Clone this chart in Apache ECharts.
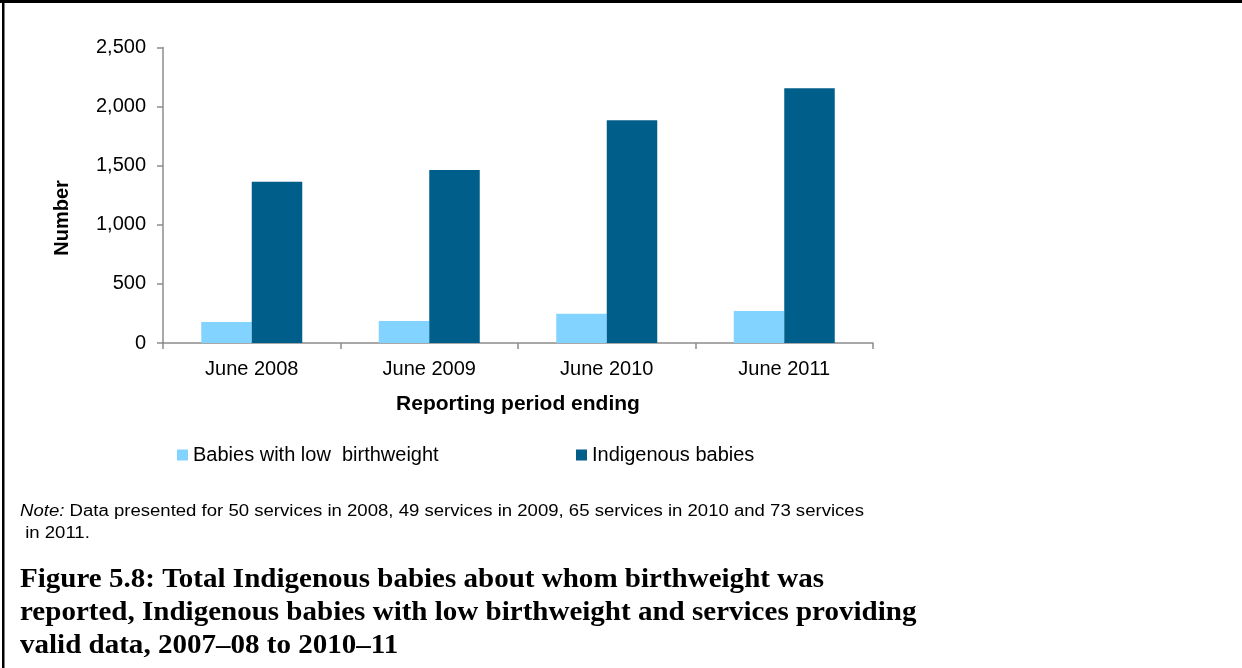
<!DOCTYPE html>
<html>
<head>
<meta charset="utf-8">
<script src="https://cdn.jsdelivr.net/npm/echarts@6/dist/echarts.min.js"></script>
<style>
  html, body { margin: 0; padding: 0; background: #ffffff; }
  #chart { width: 1242px; height: 668px; }
</style>
</head>
<body>
<div id="chart"></div>
<script>
// Reporting periods and counts of babies per period
const categories = ['June 2008', 'June 2009', 'June 2010', 'June 2011'];
const lowBirthweight = [178, 186, 248, 271];
const indigenousBabies = [1365, 1464, 1884, 2155];
const seriesNames = ['Babies with low  birthweight', 'Indigenous babies'];
const yTicks = { min: 0, max: 2500, interval: 500 };

const yAxisTitle = 'Number';
const xAxisTitle = 'Reporting period ending';
const noteLines = [
  'Data presented for 50 services in 2008, 49 services in 2009, 65 services in 2010 and 73 services',
  ' in 2011.'
];
const titleLines = [
  'Figure 5.8: Total Indigenous babies about whom birthweight was',
  'reported, Indigenous babies with low birthweight and services providing',
  'valid data, 2007\u201308 to 2010\u201311'
];

const LIGHT = '#82D3FF';
const DARK = '#005E8B';
const AXIS = '#8c8c8c';
const SANS = '"Liberation Sans", Arial, sans-serif';
const SERIF = '"Liberation Serif", "DejaVu Serif", serif';
const NOTE_WIDE = 1.16;  // note text is set slightly expanded
const TITLE_WIDE = 1.075;

const chart = echarts.init(document.getElementById('chart'), null, { renderer: 'canvas' });

const fmt = v => v.toLocaleString('en-US');

chart.setOption({
  animation: false,
  backgroundColor: '#ffffff',
  grid: { left: 163, right: 369, top: 47.5, bottom: 325, containLabel: false },
  legend: [
    {
      data: [seriesNames[0]],
      left: 172, top: 440,
      icon: 'rect', itemWidth: 11, itemHeight: 11, itemGap: 5,
      textStyle: { fontFamily: SANS, fontSize: 20, color: '#000' }
    },
    {
      data: [seriesNames[1]],
      left: 571, top: 440,
      icon: 'rect', itemWidth: 11, itemHeight: 11, itemGap: 5,
      textStyle: { fontFamily: SANS, fontSize: 20, color: '#000' }
    }
  ],
  xAxis: {
    type: 'category',
    data: categories,
    boundaryGap: true,
    name: xAxisTitle,
    nameLocation: 'middle',
    nameGap: 51,
    nameTextStyle: { fontFamily: SANS, fontSize: 21, fontWeight: 'bold', color: '#000' },
    axisLine: { lineStyle: { color: AXIS, width: 1.5 } },
    axisTick: { show: true, length: 6, lineStyle: { color: AXIS, width: 1.5 } },
    axisLabel: { fontFamily: SANS, fontSize: 20, color: '#000', margin: 16 },
    splitLine: { show: false }
  },
  yAxis: {
    type: 'value',
    min: yTicks.min, max: yTicks.max, interval: yTicks.interval,
    axisLine: { show: true, lineStyle: { color: AXIS, width: 1.5 } },
    axisTick: { show: true, length: 6, lineStyle: { color: AXIS, width: 1.5 } },
    axisLabel: { fontFamily: SANS, fontSize: 20, color: '#000', margin: 17, formatter: fmt },
    splitLine: { show: false }
  },
  series: [
    {
      name: seriesNames[0], type: 'bar', data: lowBirthweight,
      itemStyle: { color: LIGHT }, barWidth: 50.5, barGap: '0%'
    },
    {
      name: seriesNames[1], type: 'bar', data: indigenousBabies,
      itemStyle: { color: DARK }, barWidth: 50.5, barGap: '0%'
    }
  ],
  graphic: [
    // frame: top and left rules
    { type: 'rect', shape: { x: 0, y: 0, width: 1242, height: 3 }, style: { fill: '#000' }, silent: true },
    { type: 'rect', shape: { x: 2, y: 0, width: 2.5, height: 668 }, style: { fill: '#000' }, silent: true },
    // rotated value-axis title
    {
      type: 'text', x: 62, y: 218, rotation: Math.PI / 2, silent: true,
      style: {
        text: yAxisTitle, fontFamily: SANS, fontSize: 20, fontWeight: 'bold', fill: '#000',
        align: 'center', verticalAlign: 'middle'
      }
    },
    {
      type: 'text', x: 20, y: 501, scaleX: NOTE_WIDE, silent: true,
      style: {
        text: '{i|Note:} ' + noteLines[0] + '\n' + noteLines[1],
        fontFamily: SANS, fontSize: 16, lineHeight: 22, fill: '#000',
        rich: { i: { fontStyle: 'italic', fontFamily: SANS, fontSize: 16 } }
      }
    },
    {
      type: 'text', x: 20, y: 564, scaleX: TITLE_WIDE, silent: true,
      style: {
        text: titleLines.join('\n'),
        fontFamily: SERIF, fontSize: 27, fontWeight: 'bold', lineHeight: 33, fill: '#000'
      }
    }
  ]
});
</script>
</body>
</html>
